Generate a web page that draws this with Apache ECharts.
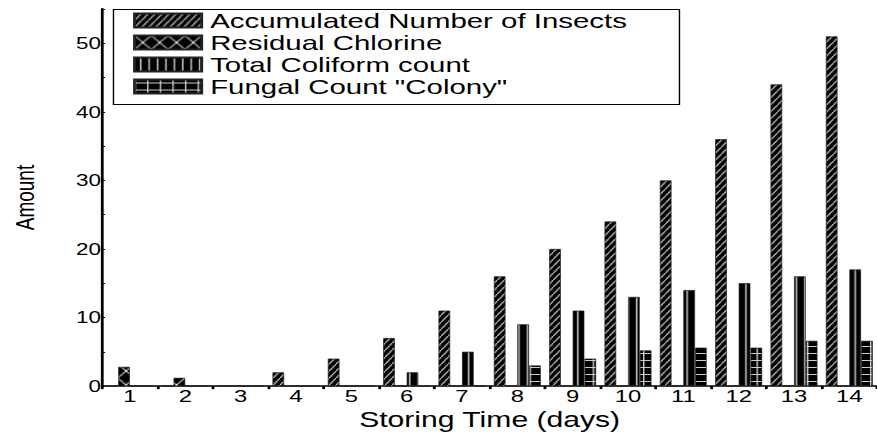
<!DOCTYPE html>
<html><head><meta charset="utf-8">
<script src="https://cdn.jsdelivr.net/npm/echarts@6/dist/echarts.min.js"></script>
<style>
html,body{margin:0;padding:0;background:#fff}
#wrap{width:877px;height:436px;overflow:hidden;position:relative}
#c{width:626px;height:436px;transform:scaleX(1.40096);transform-origin:0 0}
</style>
</head><body><div id="wrap"><div id="c"></div></div>
<script>
// ---- data ----
const days = ['1','2','3','4','5','6','7','8','9','10','11','12','13','14'];
const insects  = [0, 0, 0, 2, 4, 7, 11, 16, 20, 24, 30, 36, 44, 51];
const chlorine = [2.8, 1.2, 0, 0, 0, 0, 0, 0, 0, 0, 0, 0, 0, 0];
const coliform = [0, 0, 0, 0, 0, 2, 5, 9, 11, 13, 14, 15, 16, 17];
const fungal   = [0, 0, 0, 0, 0, 0, 0, 3, 4, 5.2, 5.6, 5.6, 6.6, 6.6];
const seriesNames = ['Accumulated Number of Insects', 'Residual Chlorine', 'Total Coliform count', 'Fungal Count "Colony"'];
const yMin = 0, yMax = 55, yStep = 10;

// ---- hatch patterns (white lines on black) ----
function pattern(w, h, draw) {
  const c = document.createElement('canvas');
  c.width = w; c.height = h;
  const g = c.getContext('2d');
  g.fillStyle = '#000'; g.fillRect(0, 0, w, h);
  g.strokeStyle = '#fff'; g.fillStyle = '#fff'; g.lineWidth = 1;
  draw(g, w, h);
  return { image: c, repeat: 'repeat' };
}
const pInsects = pattern(5, 7, (g, w, h) => {
  g.beginPath();
  g.moveTo(-1, h + 1.4); g.lineTo(w + 1, -1.4);
  g.stroke();
});
const pChlorine = pattern(12, 14, (g, w, h) => {
  g.beginPath();
  g.moveTo(0, 0); g.lineTo(w, h);
  g.moveTo(w, 0); g.lineTo(0, h);
  g.stroke();
});
const pColiform = pattern(6, 8, (g) => {
  g.fillStyle = '#ddd'; g.fillRect(4, 0, 1, 8);
});
const pFungal = pattern(9, 7, (g) => {
  g.fillStyle = '#ccc'; g.fillRect(0, 3, 9, 1); g.fillRect(0, 0, 1, 7);
});
const fills = [pInsects, pChlorine, pColiform, pFungal];
const values = [insects, chlorine, coliform, fungal];

const font = 'Liberation Sans';
const chart = echarts.init(document.getElementById('c'), null, { renderer: 'svg' });
chart.setOption({
  animation: false,
  backgroundColor: '#fff',
  grid: { left: 67, top: 9, width: 567.5, height: 383, containLabel: false },
  legend: {
    orient: 'vertical', left: 95, top: 10,
    padding: 0,
    icon: 'rect', itemWidth: 48, itemHeight: 14, itemGap: 1,
    textStyle: { fontFamily: font, fontSize: 21, color: '#000', padding: [0, 0, 0, 1] },
    data: seriesNames
  },
  graphic: [{ type: 'rect', left: 78.5, top: 7, shape: { width: 404, height: 95 }, style: { fill: 'none', stroke: '#000', lineWidth: 1 }, silent: true }],
  xAxis: {
    type: 'category', data: days,
    axisLine: { lineStyle: { color: '#000', width: 1.5 } },
    axisTick: { show: true, length: 3, lineStyle: { color: '#000', width: 2 } },
    axisLabel: { color: '#000', fontFamily: font, fontSize: 17, margin: 1 },
    name: 'Storing Time (days)', nameLocation: 'middle', nameGap: 21,
    nameTextStyle: { color: '#000', fontFamily: font, fontSize: 21.5 }
  },
  yAxis: {
    type: 'value', min: yMin, max: yMax, interval: yStep,
    axisLine: { show: true, lineStyle: { color: '#000', width: 2 } },
    axisTick: { show: true, inside: true, length: 2, lineStyle: { color: '#000' } },
    minorTick: { show: true, splitNumber: 2, length: 2, lineStyle: { color: '#000' } },
    splitLine: { show: false },
    axisLabel: { color: '#000', fontFamily: font, fontSize: 16, margin: 1, showMaxLabel: false },
    name: 'Amount', nameLocation: 'middle', nameGap: 46,
    nameTextStyle: { color: '#000', fontFamily: font, fontSize: 19 }
  },
  series: seriesNames.map((n, i) => ({
    name: n, type: 'bar', data: values[i],
    barGap: '0%', barCategoryGap: '15%',
    itemStyle: { color: fills[i], borderColor: '#222', borderWidth: 0.6 }
  }))
});
</script></body></html>
